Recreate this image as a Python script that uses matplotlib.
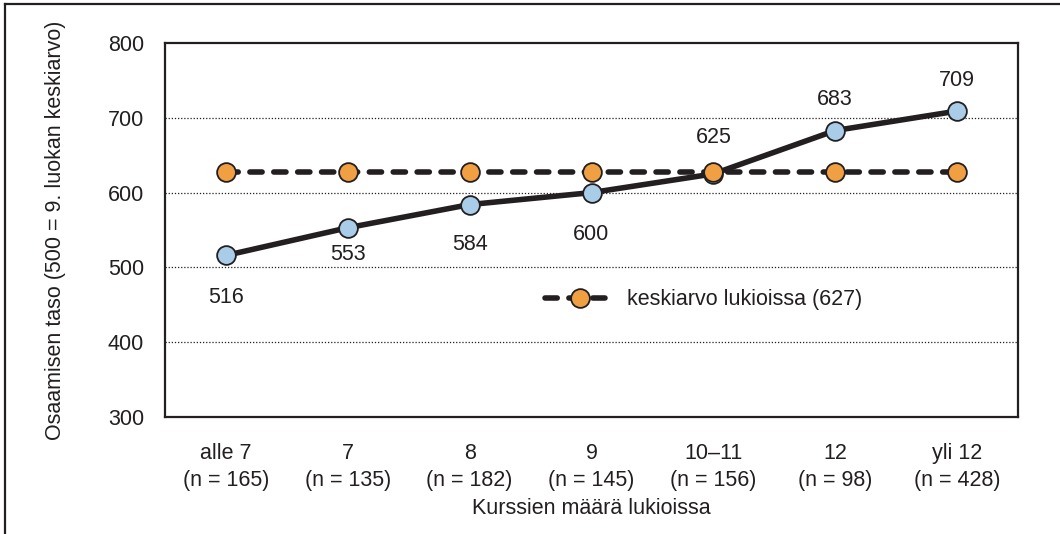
import matplotlib
matplotlib.use("Agg")
import matplotlib.pyplot as plt
from matplotlib.lines import Line2D

plt.rcParams['font.family'] = ['Liberation Sans', 'DejaVu Sans']

categories = ["alle 7", "7", "8", "9", "10\u201311", "12", "yli 12"]
counts = [165, 135, 182, 145, 156, 98, 428]
scores = [516, 553, 584, 600, 625, 683, 709]
average = [627] * 7
average_label = "keskiarvo lukioissa (627)"
y_ticks = [300, 400, 500, 600, 700, 800]
x_title = "Kurssien määrä lukioissa"
y_title = "Osaamisen taso (500 = 9. luokan keskiarvo)"

# label offsets in points (dy)
label_dy = [-30, -19, -29, -30, 26, 22, 22]

dark = "#231f20"
blue = "#a9cde8"
orange = "#f0a043"
fs = 15.5
lw = 4.0
ms = 13.5
dash = (0, (2.2, 2.1))

fig = plt.figure(figsize=(10.6, 5.34), dpi=100)
ax = fig.add_axes([165/1060, 1-417/534, (1018-165)/1060, (417-43)/534])

x = list(range(len(categories)))
ax.plot(x, scores, color=dark, lw=lw, marker='o', ms=ms,
        mfc=blue, mec=dark, mew=1.3, zorder=3, solid_capstyle='round')
ax.plot(x, average, color=dark, lw=lw, ls=dash, marker='o', ms=ms,
        mfc=orange, mec=dark, mew=1.3, zorder=4, dash_capstyle='round')

for xi, s, dy in zip(x, scores, label_dy):
    ax.annotate(str(s), (xi, s), xytext=(0, dy), textcoords='offset points',
                ha='center', va='center', fontsize=fs, color=dark)

ax.set_xlim(-0.5, len(categories) - 0.5)
ax.set_ylim(y_ticks[0], y_ticks[-1])
ax.set_yticks(y_ticks)
ax.set_xticks(x)
ax.set_xticklabels([f"{c}\n(n = {n})" for c, n in zip(categories, counts)],
                   fontsize=fs, color=dark, linespacing=1.35)
ax.tick_params(axis='y', labelsize=fs, colors=dark, length=0, pad=15)
ax.tick_params(axis='x', length=0, pad=19, colors=dark)
for t in y_ticks[1:-1]:
    ax.axhline(t, color=dark, lw=0.9, ls=(0, (1, 1.5)), zorder=1)
for sp in ax.spines.values():
    sp.set_color(dark)
    sp.set_linewidth(1.6)

ax.set_xlabel(x_title, fontsize=fs, color=dark, labelpad=5)
ax.set_ylabel(y_title, fontsize=fs, color=dark, labelpad=30)

handle = Line2D([0], [0], color=dark, lw=lw, ls=dash, marker='o', ms=ms,
                mfc=orange, mec=dark, mew=1.3, dash_capstyle='round')
ax.legend([handle], [average_label], loc='center', bbox_to_anchor=(704/1060, 1-300/534),
          bbox_transform=fig.transFigure, frameon=False, fontsize=fs, handlelength=3.2,
          handletextpad=0.6, labelcolor=dark)

# outer border (left and top)
fig.add_artist(Line2D([5/1060, 5/1060], [0, 1-4/534], color=dark, lw=1.6, transform=fig.transFigure))
fig.add_artist(Line2D([5/1060, 1], [1-4/534, 1-4/534], color=dark, lw=1.6, transform=fig.transFigure))

fig.savefig("out.png", dpi=100)
